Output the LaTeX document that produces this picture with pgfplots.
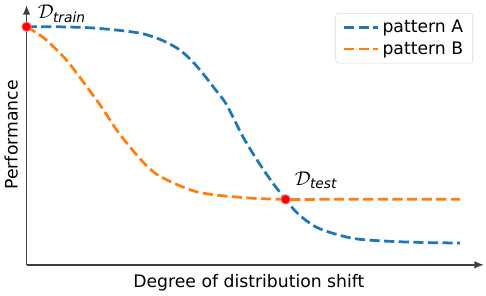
\documentclass[border=0pt]{standalone}
\usepackage{pgfplots}
\pgfplotsset{compat=1.18}
\usepackage{amsmath}
\usepackage{fontspec}
\setmainfont{DejaVu Sans}
\usetikzlibrary{arrows.meta}
\definecolor{tabblue}{HTML}{1F77B4}
\definecolor{taborange}{HTML}{FF7F0E}
\newcommand{\dlab}[1]{$\mathcal{D}_{\text{\fontsize{10}{11}\selectfont\itshape #1}}$}
\begin{document}
\begin{tikzpicture}
\begin{axis}[
  width=332pt, height=188.6pt, scale only axis,
  xmin=0, xmax=461, ymin=0, ymax=262,
  axis lines=left,
  axis line style={black!75, line width=1.1pt, -{Latex[length=7pt,width=5.5pt]}},
  xtick=\empty, ytick=\empty,
  clip=false,
  xlabel={Degree of distribution shift},
  ylabel={Performance},
  xlabel style={at={(axis description cs:0.486,-0.0687)}, anchor=center, font=\fontsize{12.5}{14}\selectfont},
  ylabel style={at={(axis description cs:-0.0335,0.5)}, anchor=center, rotate=0, font=\fontsize{12.5}{14}\selectfont},
  legend style={at={(0.976,0.969)}, anchor=north east, draw=black!15, rounded corners=2pt,
    font=\fontsize{12.5}{14}\selectfont, inner xsep=5pt, inner ysep=3pt, row sep=1pt},
  legend cell align=left,
  legend image code/.code={\draw[#1] (0pt,0pt) -- (25pt,0pt);},
]
\addplot[tabblue, line width=2pt, dash pattern=on 7.4pt off 3.2pt, smooth] coordinates {
(0,240)(30,240)(64,239)(97,236)(117,233)(134,227.5)(150,219.5)(160,212)(170,202)(180,190)(190,177)(200,164)(208,149)(217,131)(227,114)(240,94)(250,80)(261,66)(274,51)(294,37)(327,27)(360,24)(400,22.5)(437,22)};
\addlegendentry{pattern A}
\addplot[taborange, line width=2pt, dash pattern=on 7.4pt off 3.2pt, smooth] coordinates {
(0,240)(17,229)(37,210)(50,194)(64,175)(77,157)(90,137)(104,119)(117,104)(130,92)(147,83)(170,74)(194,70)(230,67)(261,66)(300,66)(437,66)};
\addlegendentry{pattern B}
\addplot[only marks, mark=*, mark size=3.4pt, mark options={fill=red, draw=red!55!white, line width=0.6pt}, forget plot] coordinates {(0,240)(261,66)};
\node[anchor=base west, inner sep=0pt, font=\fontsize{15}{16}\selectfont] at (axis cs:11,248) {\dlab{train}};
\node[anchor=base west, inner sep=0pt, font=\fontsize{15}{16}\selectfont] at (axis cs:270,80) {\dlab{test}};
\path (axis cs:-23,-29) rectangle (axis cs:463,267);
\end{axis}
\end{tikzpicture}
\end{document}
